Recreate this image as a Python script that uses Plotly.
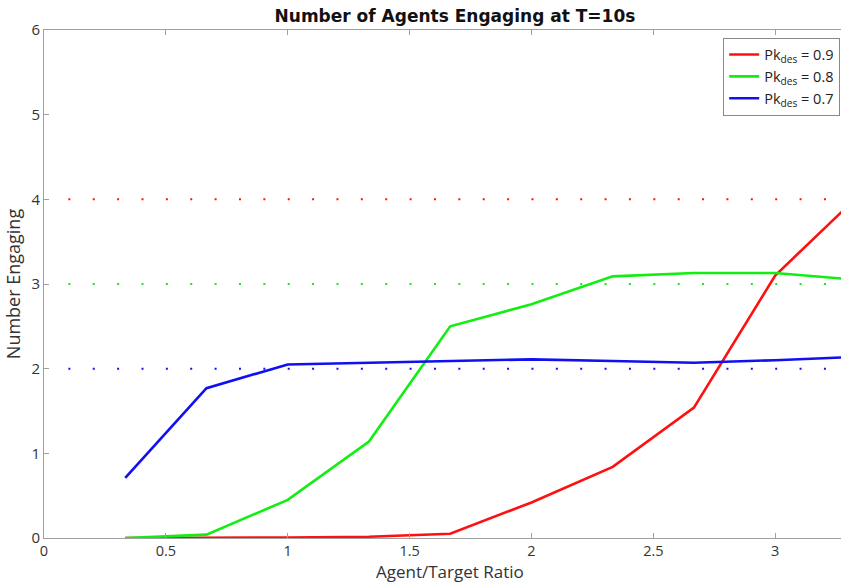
import plotly.graph_objects as go

# Agent/target ratios and mean number of agents engaging at T=10s
ratio = [1/3, 2/3, 1.0, 4/3, 5/3, 2.0, 7/3, 8/3, 3.0, 10/3]
engaging_09 = [0.0, 0.0, 0.005, 0.015, 0.05, 0.42, 0.84, 1.54, 3.10, 4.02]
engaging_08 = [0.0, 0.04, 0.45, 1.14, 2.50, 2.76, 3.09, 3.13, 3.13, 3.05]
engaging_07 = [0.71, 1.77, 2.05, 2.07, 2.09, 2.11, 2.09, 2.07, 2.10, 2.14]

# Desired engagement levels shown as dotted reference lines
target_levels = [4, 3, 2]
ref_start, ref_end, ref_step = 0.1, 3.5, 0.1

series_labels = ["0.9", "0.8", "0.7"]
colors = ["#ff1010", "#12ee12", "#1010f0"]

x_range = [0, 3.27]
y_range = [0, 6]
margin = dict(l=44, r=0, t=30, b=46)
W, H = 841, 584
px_per_unit = (W - margin["l"] - margin["r"]) / (x_range[1] - x_range[0])
dot_len = 2
gap = ref_step * px_per_unit - dot_len

fig = go.Figure()

for lvl, c in zip(target_levels, colors):
    fig.add_trace(go.Scatter(
        x=[ref_start, ref_end], y=[lvl, lvl], mode="lines",
        line=dict(color=c, width=2, dash=f"{dot_len}px,{gap:.3f}px"),
        showlegend=False, hoverinfo="skip"))

for ys, c, lab in zip([engaging_09, engaging_08, engaging_07], colors, series_labels):
    fig.add_trace(go.Scatter(
        x=ratio, y=ys, mode="lines",
        line=dict(color=c, width=2.6),
        name=f"Pk<sub>des</sub> = {lab}"))

label_font = "Open Sans"
axis_common = dict(
    showgrid=False, zeroline=False, showline=True, linecolor="#a0a0a0",
    linewidth=1, ticks="inside", ticklen=5, tickcolor="#a0a0a0",
)

fig.update_layout(
    width=W, height=H, margin=margin,
    paper_bgcolor="white", plot_bgcolor="white",
    title=dict(text="<b>Number of Agents Engaging at T=10s</b>",
               font=dict(family="DejaVu Sans", size=17, color="#111111"),
               x=0.541, xanchor="center", y=0.982, yanchor="top"),
    xaxis=dict(range=x_range, tickvals=[0, 0.5, 1, 1.5, 2, 2.5, 3],
               ticktext=["0", "0.5", "1", "1.5", "2", "2.5", "3"],
               tickfont=dict(family=label_font, size=14.5, color="#333333"),
               mirror="ticks", **axis_common),
    yaxis=dict(range=y_range, tickvals=[0, 1, 2, 3, 4, 5, 6],
               tickfont=dict(family=label_font, size=15, color="#333333"),
               title=dict(text="Number Engaging", standoff=6,
                          font=dict(family=label_font, size=18, color="#333333")),
               **axis_common),
    legend=dict(x=0.999, y=0.985, xanchor="right", yanchor="top",
                bgcolor="white", bordercolor="#888888", borderwidth=1,
                font=dict(family=label_font, size=14.5, color="#222222"),
                tracegroupgap=0, itemwidth=30),
    showlegend=True,
)

# x-axis title placed as an annotation so it centres on the full axis span
fig.add_annotation(text="Agent/Target Ratio", xref="paper", yref="paper",
                   x=0.51, y=0, yshift=-46, xanchor="center", yanchor="bottom",
                   showarrow=False, borderpad=0,
                   font=dict(family=label_font, size=17, color="#333333"))

fig.write_html("out.html")
